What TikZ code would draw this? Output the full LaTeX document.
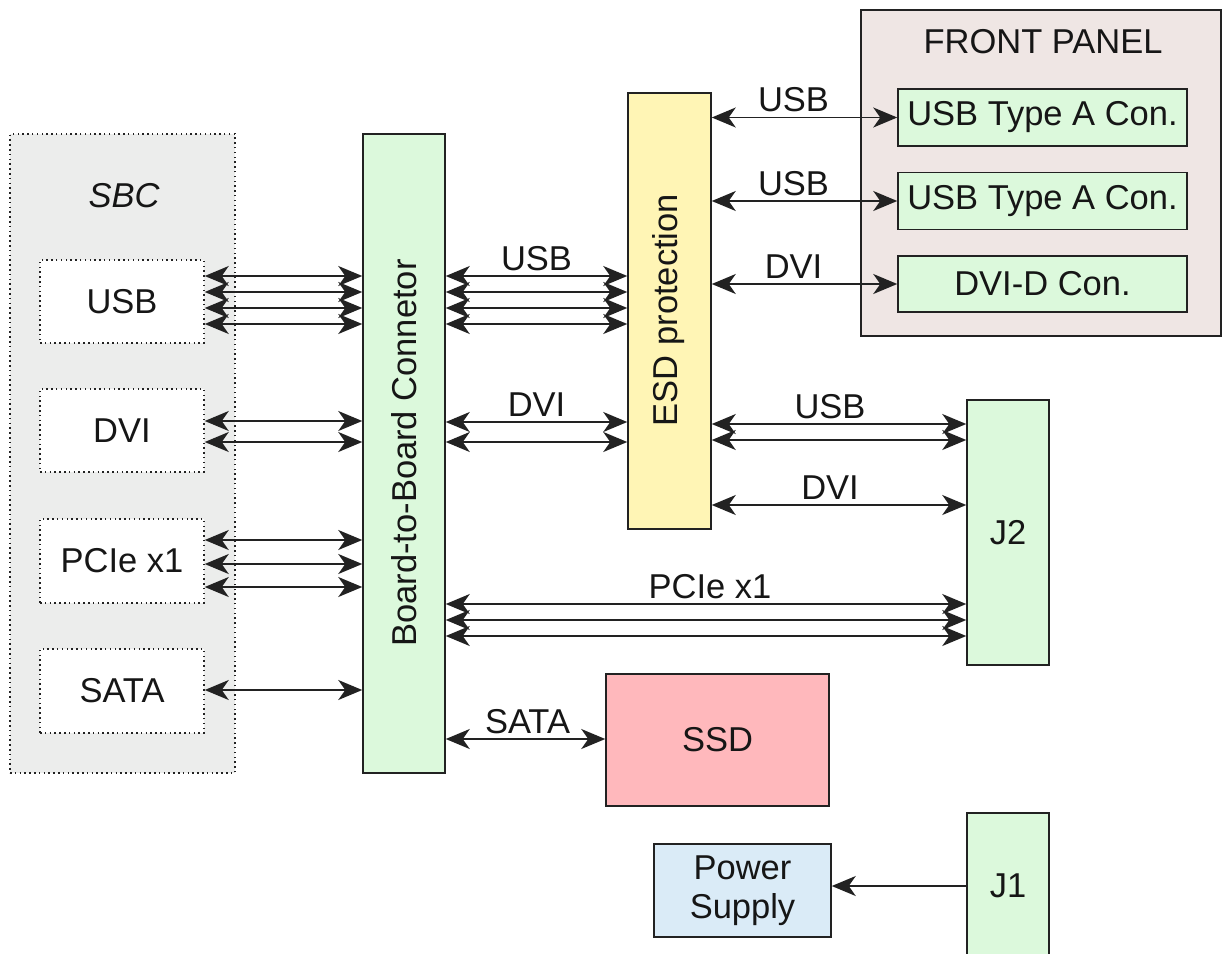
\documentclass[tikz,border=0pt]{standalone}
\usepackage{fontspec}
\setmainfont{Liberation Sans}
\usetikzlibrary{arrows.meta}
\definecolor{edge}{HTML}{222222}
\definecolor{txt}{HTML}{161616}
\definecolor{sbcfill}{HTML}{ECEDEC}
\definecolor{grn}{HTML}{DCF9DC}
\definecolor{ylw}{HTML}{FFF5B5}
\definecolor{pnk}{HTML}{FFB8BC}
\definecolor{blu}{HTML}{DAEBF7}
\definecolor{fpfill}{HTML}{EFE6E4}
\newcommand{\bigfont}{\fontsize{34.5}{39}\selectfont}
\tikzset{
  box/.style={draw=edge, line width=1.5pt, inner sep=0pt, text=txt, font=\bigfont, align=center},
  dotbox/.style={draw=edge, line width=1.5pt, dash pattern=on 1.5pt off 3.3pt, inner sep=0pt, text=txt, font=\bigfont},
  bi/.style={draw=edge, line width=1.6pt, arrows={Stealth[length=24pt,width=20pt,inset=7pt]-Stealth[length=24pt,width=20pt,inset=7pt]}},
  uni/.style={draw=edge, line width=1.6pt, arrows={-Stealth[length=24pt,width=20pt,inset=7pt]}},
  lbl/.style={font=\bigfont, text=txt, anchor=base, inner sep=0pt, yshift=6pt}
}
\begin{document}
\begin{tikzpicture}[x=1pt,y=-1pt]
\useasboundingbox (0,0) rectangle (1222,953);
% SBC
\node[dotbox, fill=sbcfill, minimum width=225pt, minimum height=639pt] (sbc) at (122.5,453.5) {};
\node[text=txt, font=\bigfont\itshape] (sbclbl) at (124,196) {SBC};
\node[dotbox, fill=white, minimum width=164pt, minimum height=83pt] (usbS) at (122,301.5) {USB};
\node[dotbox, fill=white, minimum width=164pt, minimum height=83pt] (dviS) at (122,430.5) {DVI};
\node[dotbox, fill=white, minimum width=164pt, minimum height=84pt] (pcieS) at (122,561) {PCIe x1};
\node[dotbox, fill=white, minimum width=164pt, minimum height=84pt] (sataS) at (122,691) {SATA};
% Board-to-board
\node[box, fill=grn, minimum width=82pt, minimum height=639pt] (b2b) at (404,453.5) {};
\node[text=txt, font=\bigfont, rotate=90] (b2blbl) at (404,453) {Board-to-Board Connetor};
% ESD
\node[box, fill=ylw, minimum width=83pt, minimum height=436pt] (esd) at (669.5,311) {};
\node[text=txt, font=\bigfont, rotate=90] (esdlbl) at (669,310) {ESD protection};
% Front panel
\node[box, fill=fpfill, minimum width=360pt, minimum height=326pt] (fp) at (1041,173) {};
\node[text=txt, font=\bigfont] (fplbl) at (1043,42) {FRONT PANEL};
\node[box, fill=grn, minimum width=289pt, minimum height=57pt] (usbA1) at (1042.5,117.5) {USB Type A Con.};
\node[box, fill=grn, minimum width=289pt, minimum height=57pt] (usbA2) at (1042.5,201) {USB Type A Con.};
\node[box, fill=grn, minimum width=289pt, minimum height=56pt] (dvid) at (1042.5,284) {DVI-D Con.};
% J2, SSD, PSU, J1
\node[box, fill=grn, minimum width=82pt, minimum height=265pt] (j2) at (1008,532.5) {J2};
\node[box, fill=pnk, minimum width=223pt, minimum height=132pt] (ssd) at (717.5,740) {SSD};
\node[box, fill=blu, minimum width=177pt, minimum height=93pt] (ps) at (742.5,890.5) {Power\\Supply};
\node[box, fill=grn, minimum width=82pt, minimum height=150pt] (j1) at (1008,888) {};
\node[text=txt, font=\bigfont] (j1lbl) at (1008,886) {J1};
% SBC -> B2B
\foreach \y in {276,292,308,324} \draw[bi] (usbS.east |- 0,\y) -- (b2b.west |- 0,\y);
\foreach \y in {421,442} \draw[bi] (dviS.east |- 0,\y) -- (b2b.west |- 0,\y);
\foreach \y in {540,564,587} \draw[bi] (pcieS.east |- 0,\y) -- (b2b.west |- 0,\y);
\draw[bi] (sataS.east |- 0,690) -- (b2b.west |- 0,690);
% B2B -> ESD
\draw[bi] (b2b.east |- 0,276) -- node[lbl] {USB} (esd.west |- 0,276);
\foreach \y in {292,308,324} \draw[bi] (b2b.east |- 0,\y) -- (esd.west |- 0,\y);
\draw[bi] (b2b.east |- 0,422) -- node[lbl] {DVI} (esd.west |- 0,422);
\draw[bi] (b2b.east |- 0,442) -- (esd.west |- 0,442);
% ESD -> front panel
\draw[bi] (esd.east |- usbA1.west) -- node[lbl, xshift=-11pt] {USB} (usbA1.west);
\draw[bi] (esd.east |- usbA2.west) -- node[lbl, xshift=-11pt] {USB} (usbA2.west);
\draw[bi] (esd.east |- dvid.west) -- node[lbl, xshift=-11pt] {DVI} (dvid.west);
% ESD -> J2
\draw[bi] (esd.east |- 0,424) -- node[lbl, xshift=-9pt] {USB} (j2.west |- 0,424);
\draw[bi] (esd.east |- 0,440) -- (j2.west |- 0,440);
\draw[bi] (esd.east |- 0,505) -- node[lbl, xshift=-9pt] {DVI} (j2.west |- 0,505);
% B2B -> J2 PCIe
\draw[bi] (b2b.east |- 0,604) -- node[lbl, xshift=4pt] {PCIe x1} (j2.west |- 0,604);
\foreach \y in {620,636} \draw[bi] (b2b.east |- 0,\y) -- (j2.west |- 0,\y);
% SATA
\draw[bi] (b2b.east |- 0,739) -- node[lbl, xshift=2pt] {SATA} (ssd.west |- 0,739);
% J1 -> PSU
\draw[uni] (j1.west |- 0,886) -- (ps.east |- 0,886);
\end{tikzpicture}
\end{document}
